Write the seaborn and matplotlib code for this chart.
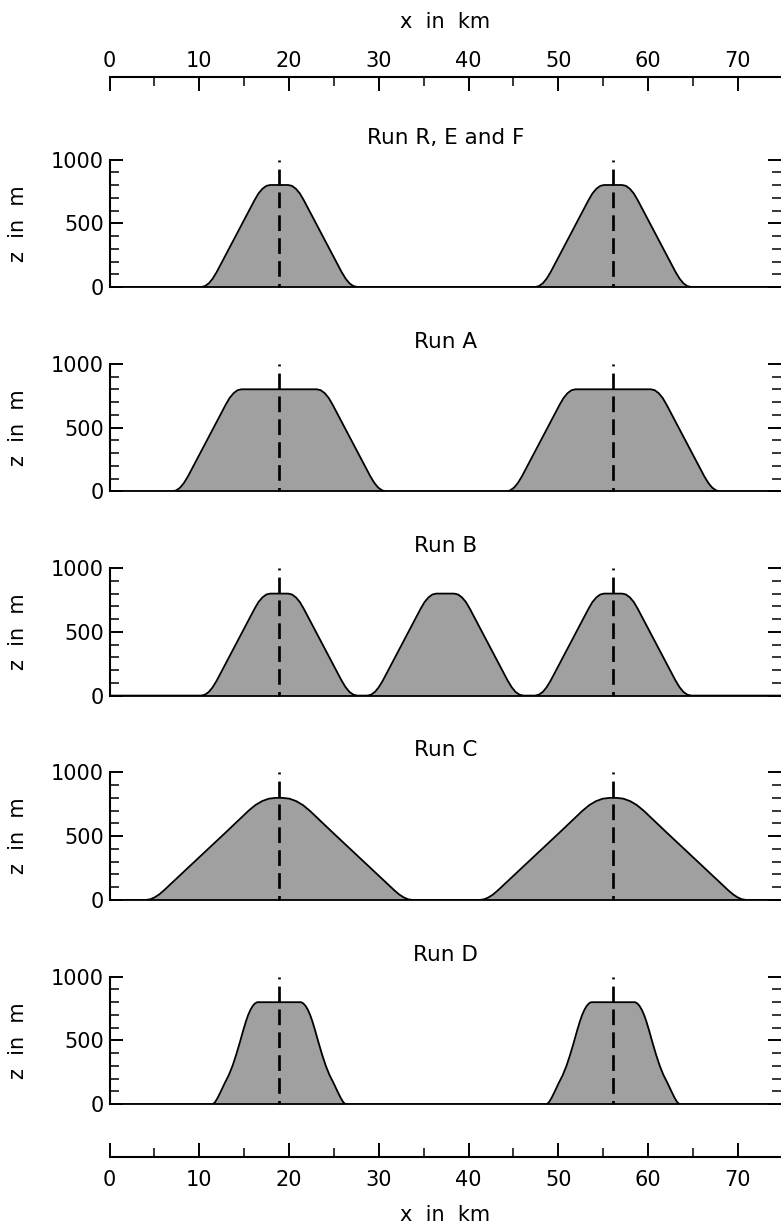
import numpy as np
import pandas as pd
import matplotlib
matplotlib.use("Agg")
import matplotlib.pyplot as plt
import seaborn as sns
from matplotlib.ticker import MultipleLocator

# panel titles
runs = ["Run R, E and F", "Run A", "Run B", "Run C", "Run D"]

# ridge crest positions in km
crest_R = [18.9, 56.1]
crest_A = [18.9, 56.1]
crest_B = [18.9, 37.4, 56.1]
crest_C = [18.9, 56.1]
crest_D = [18.9, 56.1]

# half profile of one ridge, foot -> crest: distance from crest (km), height (m)
dist_R = [8.7, 8.27, 7.83, 7.4, 6.96, 5.0, 2.75, 2.31, 1.87, 1.43, 1.0, 0.0]
z_R = [0, 7, 29, 66, 117, 379, 680, 733, 770, 793, 800, 800]
dist_A = [11.9, 11.47, 11.03, 10.6, 10.16, 8.2, 5.95, 5.51, 5.07, 4.63, 4.2, 0.0]
z_A = [0, 7, 29, 66, 117, 379, 680, 733, 770, 793, 800, 800]
dist_C = [14.8, 14.36, 13.89, 13.36, 12.8, 10.0, 6.0, 3.4, 2.64, 1.89, 1.14, 0.4, 0.0]
z_C = [0, 5, 19, 43, 77, 262, 526, 700, 744, 775, 794, 800, 800]
dist_D = [7.4, 7.15, 6.85, 6.5, 6.1, 5.6, 5.2, 4.8, 4.4, 4.0, 3.7, 3.45,
          3.2, 2.95, 2.7, 2.45, 0.0]
z_D = [0, 15, 50, 100, 160, 230, 300, 385, 480, 580, 650, 700,
       740, 770, 790, 800, 800]

# dashed marker lines (km)
marker_x = [18.9, 56.1]

xmax = 74.8

panels = [
    (runs[0], crest_R, dist_R, z_R),
    (runs[1], crest_A, dist_A, z_A),
    (runs[2], crest_B, dist_R, z_R),
    (runs[3], crest_C, dist_C, z_C),
    (runs[4], crest_D, dist_D, z_D),
]


def build_profile(crests, dist, height):
    xs = [0.0]
    zs = [0.0]
    for c in crests:
        xs += [c - d for d in dist] + [c + d for d in reversed(dist)]
        zs += list(height) + list(reversed(height))
    xs.append(xmax)
    zs.append(0.0)
    return pd.DataFrame({"x": xs, "z": zs})


sns.set_style("ticks")
plt.rcParams['font.family'] = ['DejaVu Sans']
plt.rcParams.update({"text.color": "black", "axes.labelcolor": "black",
                     "xtick.color": "black", "ytick.color": "black",
                     "axes.edgecolor": "black"})

W, H = 781, 1230
fig = plt.figure(figsize=(W / 100, H / 100), dpi=100)

L = 109.5 / W
AW = (W - 109.5) / W
lw_dash = 1.95

for k, (title, crests, dist, height) in enumerate(panels):
    top_px = 159.5 + 204.3 * k
    ax = fig.add_axes([L, 1 - (top_px + 127.5) / H, AW, 127.5 / H])
    df = build_profile(crests, dist, height)
    ax.fill_between(df["x"], 0, df["z"], color="#a0a0a0", lw=0, zorder=1)
    sns.lineplot(data=df, x="x", y="z", sort=False, estimator=None,
                 color="black", lw=1.3, ax=ax, zorder=3)
    for mx in marker_x:
        ax.plot([mx, mx], [1000, 0], color="black", lw=lw_dash,
                linestyle=(5.1, (5.8, 2.65)), zorder=4, clip_on=False)
    ax.set_xlim(0, xmax)
    ax.set_ylim(0, 1000)
    ax.yaxis.set_major_locator(MultipleLocator(500))
    ax.yaxis.set_minor_locator(MultipleLocator(100))
    ax.tick_params(axis="x", which="both", bottom=False, labelbottom=False)
    ax.tick_params(axis="y", which="major", direction="in", left=True, right=True,
                   length=9.4, width=1.4, labelsize=15, pad=4)
    ax.tick_params(axis="y", which="minor", direction="in", left=True, right=True,
                   length=6.5, width=1.1)
    for s in ["top", "right"]:
        ax.spines[s].set_visible(False)
    ax.spines["left"].set_linewidth(1.5)
    ax.spines["bottom"].set_linewidth(1.3)
    ax.set_xlabel("")
    ax.set_ylabel("z  in  m", fontsize=15)
    ax.yaxis.set_label_coords(-(109.5 - 28) / (W - 109.5), 0.5)
    ax.set_title(title, fontsize=15.5, pad=11.5)

# top and bottom x axes
for ypx, pos in [(77, "top"), (1157, "bottom")]:
    axx = fig.add_axes([L, 1 - ypx / H - (0.01 if pos == "top" else 0), AW, 0.01])
    axx.set_xlim(0, xmax)
    axx.set_yticks([])
    axx.patch.set_alpha(0)
    for s in ["top", "bottom", "left", "right"]:
        axx.spines[s].set_visible(s == pos)
    axx.spines[pos].set_linewidth(1.5)
    axx.xaxis.set_ticks_position(pos)
    axx.xaxis.set_label_position(pos)
    axx.xaxis.set_major_locator(MultipleLocator(10))
    axx.xaxis.set_minor_locator(MultipleLocator(5))
    axx.tick_params(axis="x", which="major", direction="in", length=10, width=1.4,
                    labelsize=15, pad=4.5 if pos == "top" else 9)
    axx.tick_params(axis="x", which="minor", direction="in", length=6.5, width=1.1)

fig.text((109.5 + W) / 2 / W, 1 - 22 / H, "x  in  km", ha="center", va="center", fontsize=15)
fig.text((109.5 + W) / 2 / W, 1 - 1215 / H, "x  in  km", ha="center", va="center", fontsize=15)

plt.savefig("out.png", dpi=100)
